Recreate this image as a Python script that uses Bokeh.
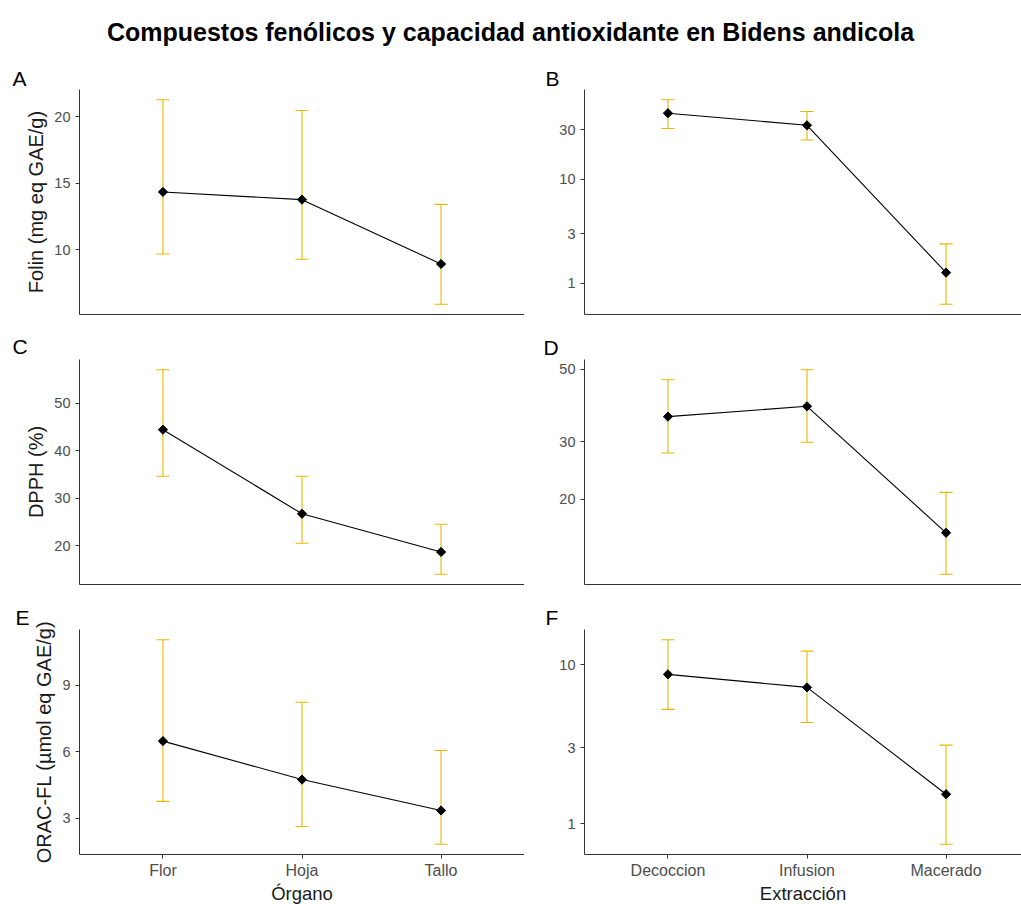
import math
from bokeh.plotting import figure
from bokeh.models import (Range1d, FixedTicker, PrintfTickFormatter, Whisker,
                          ColumnDataSource, TeeHead, Div)
from bokeh.layouts import column, row
from bokeh.embed import file_html
from bokeh.resources import INLINE

# ---------------- data ----------------
organo = ["Flor", "Hoja", "Tallo"]
extraccion = ["Decoccion", "Infusion", "Macerado"]

folin_org_mean = [14.35, 13.77, 8.95]
folin_org_low = [9.70, 9.30, 5.93]
folin_org_high = [21.26, 20.45, 13.42]

folin_ext_mean = [43.4, 33.2, 1.27]
folin_ext_low = [30.9, 24.0, 0.63]
folin_ext_high = [58.5, 45.1, 2.40]

dpph_org_mean = [44.45, 26.77, 18.74]
dpph_org_low = [34.65, 20.57, 14.05]
dpph_org_high = [57.06, 34.65, 24.56]

dpph_ext_mean = [35.8, 38.5, 15.8]
dpph_ext_low = [27.7, 29.9, 11.8]
dpph_ext_high = [46.4, 49.8, 21.0]

orac_org_mean = [6.48, 4.75, 3.36]
orac_org_low = [3.77, 2.64, 1.84]
orac_org_high = [11.04, 8.23, 6.06]

orac_ext_mean = [8.71, 7.21, 1.53]
orac_ext_low = [5.24, 4.33, 0.74]
orac_ext_high = [14.4, 12.2, 3.12]

ticks_folin_org = [10, 15, 20]
ticks_folin_ext = [1, 3, 10, 30]
ticks_dpph_org = [20, 30, 40, 50]
ticks_dpph_ext = [20, 30, 50]
ticks_orac_org = [3, 6, 9]
ticks_orac_ext = [1, 3, 10]

title_text = "Compuestos fenólicos y capacidad antioxidante en Bidens andicola"
ylab_folin = "Folin (mg eq GAE/g)"
ylab_dpph = "DPPH (%)"
ylab_orac = "ORAC-FL (µmol eq GAE/g)"
xlab_org = "Órgano"
xlab_ext = "Extracción"

# ---------------- style ----------------
FONT = "Liberation Sans"
GOLD = "#E7B800"
AXIS = "#333333"
TICKLAB = "#4D4D4D"
FRAME_H = 225
LEFT_W = 445
RIGHT_W = 437
CAT_STEP = LEFT_W / 3.2
TOP = 30
GAP_B = 15


def make_panel(label, label_offset, label_standoff, cats, mean, low, high, log,
               yticks, ylabel, show_x, xlabel, frame_w, border_left,
               border_top, border_bottom):
    if log:
        a, b = math.log10(min(low)), math.log10(max(high))
        pad = 0.05 * (b - a)
        yr = Range1d(10 ** (a - pad), 10 ** (b + pad))
    else:
        a, b = min(low), max(high)
        pad = 0.05 * (b - a)
        yr = Range1d(a - pad, b + pad)
    x_end = 0.4 + frame_w / CAT_STEP
    p = figure(frame_width=frame_w, frame_height=FRAME_H,
               x_range=Range1d(0.4, x_end), y_range=yr,
               y_axis_type="log" if log else "linear",
               output_backend="svg", toolbar_location=None,
               min_border_left=border_left, min_border_right=0,
               min_border_top=border_top, min_border_bottom=border_bottom,
               background_fill_color="white", border_fill_color="white")
    xs = list(range(1, len(cats) + 1))
    src = ColumnDataSource(dict(x=xs, mean=mean, low=low, high=high))
    wh = Whisker(source=src, base="x", upper="high", lower="low",
                 dimension="height", line_color=GOLD, line_width=1.1,
                 upper_head=TeeHead(size=13, line_color=GOLD, line_width=1.1),
                 lower_head=TeeHead(size=13, line_color=GOLD, line_width=1.1),
                 level="underlay")
    p.add_layout(wh)
    p.line("x", "mean", source=src, line_color="black", line_width=1.1)
    p.scatter("x", "mean", source=src, marker="square", angle=math.pi / 4,
              size=6.5, color="black")

    p.grid.visible = False
    p.outline_line_color = None

    xa = p.xaxis[0]
    xa.ticker = FixedTicker(ticks=xs if show_x else [])
    xa.major_label_overrides = {i: c for i, c in zip(xs, cats)}
    xa.axis_line_color = AXIS
    xa.major_tick_line_color = AXIS
    xa.major_tick_out = 4 if show_x else 0
    xa.major_tick_in = 0
    xa.minor_tick_line_color = None
    xa.major_label_text_font = FONT
    xa.major_label_text_font_size = "16px"
    xa.major_label_text_color = TICKLAB
    xa.major_label_standoff = 3
    if show_x:
        xa.axis_label = xlabel
        xa.axis_label_text_font = FONT
        xa.axis_label_text_font_size = "18.5px"
        xa.axis_label_text_font_style = "normal"
        xa.axis_label_text_color = "#1a1a1a"
        xa.axis_label_standoff = 1

    ya = p.yaxis[0]
    ya.ticker = FixedTicker(ticks=yticks)
    ya.formatter = PrintfTickFormatter(format="%d")
    ya.axis_line_color = AXIS
    ya.major_tick_line_color = AXIS
    ya.major_tick_out = 4
    ya.major_tick_in = 0
    ya.minor_tick_line_color = None
    ya.major_label_text_font = FONT
    ya.major_label_text_font_size = "14.5px"
    ya.major_label_text_color = TICKLAB
    ya.major_label_standoff = 5
    if ylabel:
        ya.axis_label = ylabel
        ya.axis_label_text_font = FONT
        ya.axis_label_text_font_size = "20px"
        ya.axis_label_text_font_style = "normal"
        ya.axis_label_text_color = "#1a1a1a"
        ya.axis_label_standoff = 4

    p.title.text = label
    p.title.text_font = FONT
    p.title.text_font_size = "21px"
    p.title.text_font_style = "normal"
    p.title.text_color = "black"
    p.title.align = "left"
    p.title.offset = label_offset
    p.title.standoff = label_standoff
    return p


pA = make_panel("A", -67, 0, organo, folin_org_mean, folin_org_low, folin_org_high,
                False, ticks_folin_org, ylab_folin, False, None, LEFT_W, 79, TOP, GAP_B)
pB = make_panel("B", -39, 0, extraccion, folin_ext_mean, folin_ext_low, folin_ext_high,
                True, ticks_folin_ext, None, False, None, RIGHT_W, 60, TOP, GAP_B)
pC = make_panel("C", -67, 4, organo, dpph_org_mean, dpph_org_low, dpph_org_high,
                False, ticks_dpph_org, ylab_dpph, False, None, LEFT_W, 79, TOP, GAP_B)
pD = make_panel("D", -41, 1, extraccion, dpph_ext_mean, dpph_ext_low, dpph_ext_high,
                True, ticks_dpph_ext, None, False, None, RIGHT_W, 60, TOP, GAP_B)
pE = make_panel("E", -64, 2, organo, orac_org_mean, orac_org_low, orac_org_high,
                False, ticks_orac_org, ylab_orac, True, xlab_org, LEFT_W, 79, TOP, 50)
pF = make_panel("F", -39, 1, extraccion, orac_ext_mean, orac_ext_low, orac_ext_high,
                True, ticks_orac_ext, None, True, xlab_ext, RIGHT_W, 60, TOP, 50)

title_div = Div(
    text=('<div style="width:1021px;text-align:center;font-family:\'Liberation Sans\',Arial,sans-serif;'
          'font-weight:bold;font-size:25px;line-height:30px;padding-top:17px;color:#000;">'
          + title_text + '</div>'),
    width=1021, height=59, margin=(0, 0, 0, 0))

layout = column(title_div, row(pA, pB), row(pC, pD), row(pE, pF))

open("out.html", "w").write(file_html(layout, INLINE))
